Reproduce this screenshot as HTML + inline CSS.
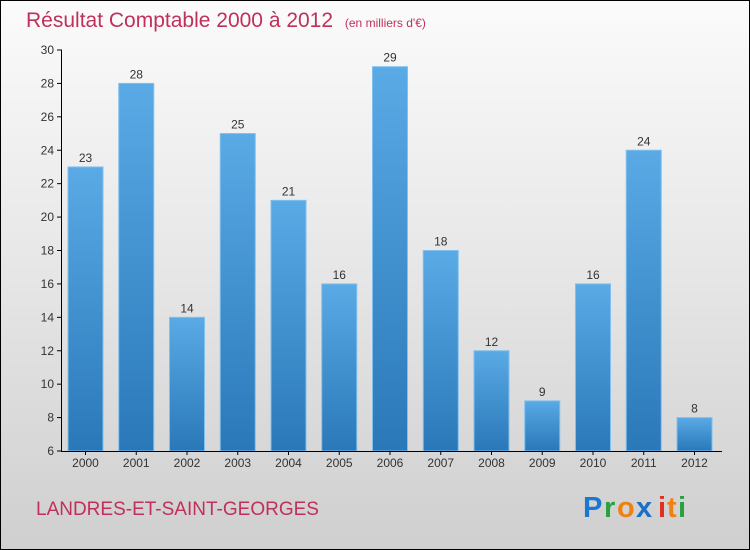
<!DOCTYPE html>
<html><head><meta charset="utf-8"><style>
html,body{margin:0;padding:0}
body{width:750px;height:550px;overflow:hidden;font-family:"Liberation Sans",sans-serif}
#wrap{position:absolute;left:0;top:0;width:748px;height:548px;border:1px solid #000;background:linear-gradient(#fbfbfb,#e6e6e6 50%,#cfcfcf)}
</style></head><body>
<div id="wrap">
<svg width="750" height="550" style="position:absolute;left:-1px;top:-1px">
<defs><linearGradient id="bg" x1="0" y1="0" x2="0" y2="1"><stop offset="0" stop-color="#5aaae6"/><stop offset="1" stop-color="#2a78b8"/></linearGradient></defs>
<text x="26" y="27" font-size="21" fill="#c0305a">Résultat Comptable 2000 à 2012 <tspan font-size="12" dx="6">(en milliers d'€)</tspan></text>
<g id="plot"></g>
<text x="36" y="515" font-size="19" fill="#c0305a">LANDRES-ET-SAINT-GEORGES</text>
<g font-size="29" font-weight="bold">
<text x="583" y="517" fill="#1a78d0">P</text><text x="604" y="517" fill="#2aa040">r</text><text x="617" y="517" fill="#f08010">o</text><text x="636" y="517" fill="#1a70c8">x</text><text x="658" y="517" fill="#e03020">i</text><text x="667" y="517" fill="#f08010">t</text><text x="678" y="517" fill="#2aa040">i</text>
</g>
</svg>
</div>
<script>
const categories=["2000","2001","2002","2003","2004","2005","2006","2007","2008","2009","2010","2011","2012"];
const values=[23,28,14,25,21,16,29,18,12,9,16,24,8];
const yTicks=[6,8,10,12,14,16,18,20,22,24,26,28,30];
const NS="http://www.w3.org/2000/svg";
const g=document.getElementById('plot');
const y=v=>451-(v-6)*(401/24);
const x=i=>85.5+i*50.75;
function mk(t,a,p){const e=document.createElementNS(NS,t);for(const k in a)e.setAttribute(k,a[k]);(p||g).appendChild(e);return e;}
yTicks.forEach(v=>{
 const l=mk('line',{x1:57,x2:62,y1:y(v),y2:y(v),stroke:'#000'});
 
 
 const t=mk('text',{x:54,y:y(v)+4,'font-size':12,'text-anchor':'end',fill:'#333'});t.textContent=v;
 
 
});
categories.forEach((c,i)=>{
 const r=mk('rect',{x:x(i)-17.5,y:y(values[i]),width:35,height:451-y(values[i]),fill:'url(#bg)',stroke:'#7fc0ee','stroke-width':1});
 
 
 const v=mk('text',{x:x(i),y:y(values[i])-5,'font-size':12,'text-anchor':'middle',fill:'#333'});v.textContent=values[i];
 
 
 const t=mk('text',{x:x(i),y:467,'font-size':12,'text-anchor':'middle',fill:'#333'});t.textContent=c;
 
 
 const tk=mk('line',{x1:x(i),x2:x(i),y1:451,y2:455,stroke:'#000'});
 
 
});
const ya=mk('line',{x1:61.5,x2:61.5,y1:50,y2:451,stroke:'#000'});


const xa=mk('line',{x1:61,x2:722,y1:451.5,y2:451.5,stroke:'#000'});


</script>
</body></html>
